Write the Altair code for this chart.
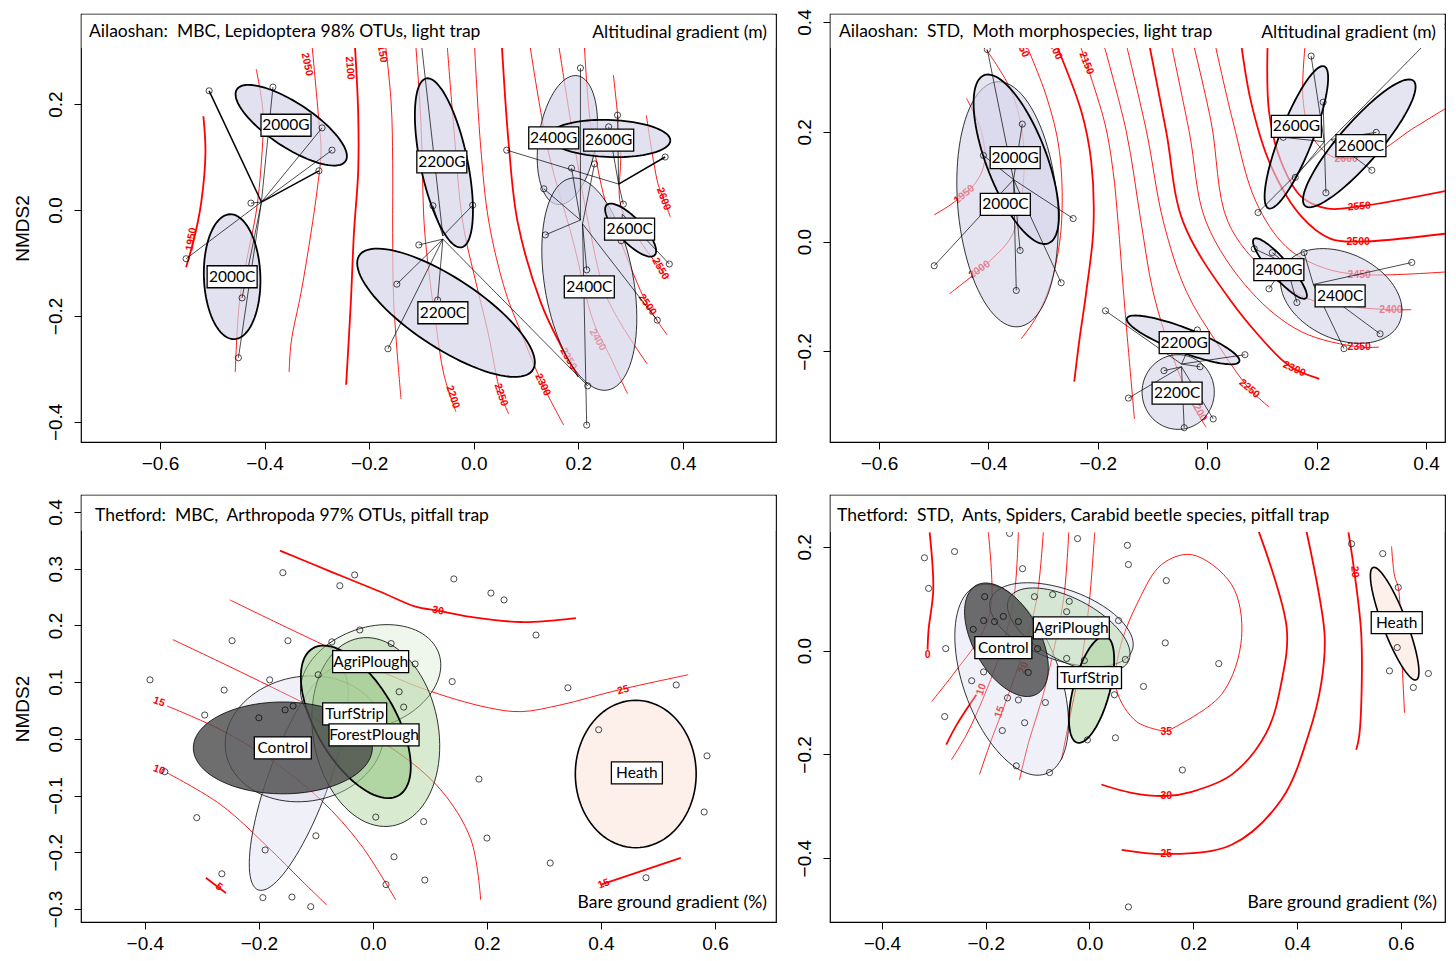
import numpy as np
import pandas as pd
import altair as alt

AXFONT = "Liberation Sans"
TFONT = "Lato"
NB = "\u00a0"

# ======================= Panel A : Ailaoshan MBC =======================
A_title = f"Ailaoshan:{NB} MBC, Lepidoptera 98% OTUs, light trap"
A_right = "Altitudinal gradient (m)"
A_contours = {
    "1950": [(-0.517, 0.177), (-0.513, 0.109), (-0.521, 0.015), (-0.534, -0.051), (-0.550, -0.108)],
    "2000": [(-0.416, 0.266), (-0.403, 0.185), (-0.406, 0.091), (-0.416, -0.004), (-0.431, -0.079), (-0.448, -0.174), (-0.456, -0.306)],
    "2050": [(-0.311, 0.330), (-0.296, 0.166), (-0.292, 0.109), (-0.300, 0.034), (-0.311, -0.042), (-0.330, -0.155), (-0.349, -0.249), (-0.353, -0.306)],
    "2100": [(-0.229, 0.340), (-0.221, 0.185), (-0.221, 0.072), (-0.229, -0.042), (-0.235, -0.174), (-0.244, -0.330)],
    "2150": [(-0.172, 0.340), (-0.158, 0.204), (-0.155, 0.091), (-0.155, -0.042), (-0.153, -0.174), (-0.139, -0.357)],
    "2200": [(-0.113, 0.340), (-0.101, 0.166), (-0.095, -0.023), (-0.088, -0.098), (-0.073, -0.211), (-0.057, -0.311), (-0.034, -0.381)],
    "2250": [(-0.053, 0.340), (-0.038, 0.153), (-0.021, -0.023), (0.004, -0.136), (0.027, -0.230), (0.052, -0.349), (0.067, -0.385)],
    "2300": [(0.000, 0.340), (0.013, 0.123), (0.029, -0.023), (0.061, -0.155), (0.090, -0.230), (0.132, -0.330), (0.172, -0.406)],
    "2350": [(0.052, 0.340), (0.067, 0.123), (0.084, -0.023), (0.128, -0.174), (0.166, -0.255), (0.200, -0.315)],
    "2400": [(0.103, 0.340), (0.143, 0.109), (0.189, -0.055), (0.229, -0.211), (0.261, -0.277), (0.294, -0.347)],
    "2450": [(0.158, 0.340), (0.195, 0.109), (0.223, -0.042), (0.256, -0.168), (0.332, -0.291)],
    "2500": [(0.210, 0.340), (0.223, 0.166), (0.252, 0.015), (0.281, -0.060), (0.332, -0.179), (0.370, -0.236)],
    "2550": [(0.267, 0.255), (0.281, 0.109), (0.281, 0.009), (0.319, -0.060), (0.357, -0.111), (0.372, -0.130)],
    "2600": [(0.330, 0.179), (0.344, 0.091), (0.353, 0.047), (0.363, 0.021), (0.376, -0.013)],
}
A_thick = ["1950", "2100", "2350"]
A_clabels = [
    ("1950", -0.540, -0.055, 280), ("2050", -0.319, 0.275, 78), ("2100", -0.237, 0.268, 85),
    ("2150", -0.176, 0.300, 80), ("2200", -0.040, -0.353, 72), ("2250", 0.052, -0.349, 72),
    ("2300", 0.132, -0.330, 65), ("2350", 0.181, -0.281, 60), ("2400", 0.237, -0.245, 60),
    ("2500", 0.332, -0.179, 55), ("2550", 0.357, -0.111, 60), ("2600", 0.363, 0.021, 70),
]
A_ellipses = [
    ("2000G", -0.349, 0.160, 0.124, 0.042, -33), ("2000C", -0.462, -0.126, 0.118, 0.054, 92),
    ("2200G", -0.057, 0.089, 0.163, 0.045, 102), ("2200C", -0.053, -0.194, 0.198, 0.066, -33),
    ("2400G", 0.179, 0.132, 0.123, 0.055, 81), ("2400C", 0.221, -0.140, 0.203, 0.085, 100),
    ("2600G", 0.260, 0.135, 0.116, 0.035, -2), ("2600C", 0.300, -0.038, 0.066, 0.023, -46),
]
A_boxes = [
    ("2000G", -0.359, 0.160), ("2000C", -0.462, -0.126), ("2200G", -0.061, 0.091), ("2200C", -0.059, -0.194),
    ("2400G", 0.153, 0.136), ("2600G", 0.258, 0.132), ("2400C", 0.221, -0.145), ("2600C", 0.298, -0.036),
]
A_hubs = {
    "2000G": (-0.406, 0.015), "2000C": (-0.406, 0.015), "2200G": (-0.059, -0.049), "2200C": (-0.059, -0.055),
    "2400G": (0.204, -0.019), "2400C": (0.208, -0.026), "2600G": (0.277, 0.049), "2600C": (0.284, -0.008),
}
A_points = {
    "2000G": [(-0.506, 0.225), (-0.384, 0.232), (-0.290, 0.155), (-0.271, 0.113), (-0.296, 0.074)],
    "2000C": [(-0.426, 0.013), (-0.550, -0.092), (-0.443, -0.166), (-0.450, -0.279)],
    "2200G": [(-0.103, 0.340), (-0.078, 0.008), (-0.002, 0.009)],
    "2200C": [(-0.105, -0.066), (-0.147, -0.140), (-0.164, -0.262), (-0.069, -0.170), (0.218, -0.332)],
    "2400G": [(0.204, 0.268), (0.187, 0.079), (0.134, 0.040), (0.137, -0.047)],
    "2400C": [(0.216, -0.113), (0.216, -0.406), (0.351, -0.208), (0.231, 0.087)],
    "2600G": [(0.275, 0.179), (0.258, 0.157), (0.366, 0.100), (0.063, 0.113), (0.286, 0.011)],
    "2600C": [(0.282, -0.058), (0.374, -0.102)],
}
A_bold_spokes = [(-0.506, 0.225), (-0.296, 0.074), (0.366, 0.100)]

# ======================= Panel B : Ailaoshan STD =======================
B_title = f"Ailaoshan:{NB} STD,{NB} Moth morphospecies, light trap"
B_right = "Altitudinal gradient (m)"
B_contours = {
    "1950": [(-0.440, 0.261), (-0.413, 0.201), (-0.407, 0.146), (-0.422, 0.109), (-0.468, 0.068), (-0.499, 0.049)],
    "2000": [(-0.404, 0.350), (-0.358, 0.274), (-0.336, 0.182), (-0.340, 0.073), (-0.358, 0.009), (-0.395, -0.033), (-0.471, -0.095)],
    "2050": [(-0.340, 0.380), (-0.294, 0.265), (-0.270, 0.164), (-0.267, 0.024), (-0.285, -0.073), (-0.312, -0.137), (-0.340, -0.177)],
    "2100": [(-0.285, 0.380), (-0.230, 0.237), (-0.212, 0.146), (-0.208, 0.024), (-0.221, -0.091), (-0.234, -0.182), (-0.243, -0.255)],
    "2150": [(-0.240, 0.380), (-0.188, 0.219), (-0.172, 0.128), (-0.163, 0.036), (-0.152, -0.104), (-0.133, -0.323)],
    "2200": [(-0.195, 0.380), (-0.148, 0.201), (-0.121, 0.036), (-0.099, -0.091), (-0.066, -0.201), (-0.029, -0.292), (-0.002, -0.338)],
    "2250": [(-0.153, 0.380), (-0.111, 0.201), (-0.080, 0.036), (-0.038, -0.091), (0.016, -0.182), (0.077, -0.268), (0.113, -0.301)],
    "2300": [(-0.110, 0.380), (-0.075, 0.201), (-0.044, 0.036), (0.044, -0.109), (0.135, -0.214), (0.159, -0.232), (0.205, -0.250)],
    "2350": [(-0.070, 0.380), (-0.033, 0.201), (-0.002, 0.036), (0.080, -0.091), (0.172, -0.164), (0.278, -0.192), (0.314, -0.192)],
    "2400": [(-0.030, 0.380), (0.007, 0.219), (0.038, 0.036), (0.108, -0.055), (0.184, -0.104), (0.268, -0.119), (0.336, -0.124), (0.373, -0.124)],
    "2450": [(0.010, 0.380), (0.047, 0.219), (0.089, 0.073), (0.144, -0.009), (0.208, -0.046), (0.278, -0.060), (0.440, -0.055)],
    "2500": [(0.058, 0.392), (0.080, 0.255), (0.117, 0.137), (0.172, 0.046), (0.226, 0.005), (0.276, 0.000), (0.440, 0.015)],
    "2550": [(0.111, 0.380), (0.113, 0.237), (0.135, 0.146), (0.172, 0.082), (0.221, 0.060), (0.278, 0.064), (0.440, 0.093)],
    "2600": [(0.181, 0.380), (0.175, 0.261), (0.190, 0.195), (0.221, 0.159), (0.245, 0.151), (0.312, 0.164), (0.373, 0.204), (0.440, 0.245)],
}
B_thick = ["2100", "2300", "2500", "2550"]
B_clabels = [
    ("1950", -0.444, 0.086, 320), ("2000", -0.416, -0.051, 325), ("2050", -0.340, 0.356, 65),
    ("2100", -0.279, 0.352, 65), ("2150", -0.221, 0.325, 68), ("2200", -0.016, -0.307, 60),
    ("2250", 0.077, -0.268, 40), ("2300", 0.159, -0.232, 25), ("2350", 0.278, -0.192, 0),
    ("2400", 0.336, -0.124, 0), ("2450", 0.278, -0.060, 0), ("2500", 0.276, 0.000, 0),
    ("2550", 0.278, 0.064, 355), ("2600", 0.254, 0.151, 0),
]
B_ellipses = [
    ("2000C", -0.365, 0.068, 0.224, 0.091, 95), ("2000G", -0.349, 0.150, 0.164, 0.055, -69),
    ("2600G", 0.163, 0.190, 0.139, 0.030, 68.5), ("2600C", 0.278, 0.179, 0.151, 0.037, 49),
    ("2400C", 0.245, -0.099, 0.117, 0.078, -25), ("2400G", 0.133, -0.049, 0.072, 0.017, -48.6),
    ("2200C", -0.053, -0.274, 0.068, 0.066, 90), ("2200G", -0.044, -0.179, 0.110, 0.022, -21),
]
B_boxes = [
    ("2000G", -0.351, 0.153), ("2000C", -0.369, 0.068), ("2600G", 0.163, 0.210), ("2600C", 0.281, 0.175),
    ("2400G", 0.131, -0.051), ("2400C", 0.243, -0.099), ("2200G", -0.042, -0.184), ("2200C", -0.055, -0.276),
]
B_hubs = {
    "2000G": (-0.354, 0.113), "2000C": (-0.354, 0.113), "2600G": (0.214, 0.182), "2600C": (0.226, 0.186),
    "2400G": (0.144, -0.040), "2400C": (0.194, -0.078), "2200G": (-0.047, -0.223), "2200C": (-0.047, -0.228),
}
B_points = {
    "2000G": [(-0.402, 0.350), (-0.338, 0.214), (-0.245, 0.042), (-0.342, -0.016)],
    "2000C": [(-0.409, 0.157), (-0.499, -0.044), (-0.349, -0.089), (-0.267, -0.075)],
    "2600G": [(0.190, 0.338), (0.212, 0.254), (0.139, 0.190), (0.161, 0.117), (0.217, 0.089)],
    "2600C": [(0.309, 0.199), (0.301, 0.130), (0.093, 0.053), (0.430, 0.392)],
    "2400G": [(0.086, -0.013), (0.119, -0.020), (0.113, -0.086), (0.164, -0.111)],
    "2400C": [(0.177, -0.020), (0.374, -0.038), (0.250, -0.195), (0.316, -0.168)],
    "2200G": [(-0.186, -0.126), (-0.018, -0.161), (0.069, -0.206), (-0.013, -0.228)],
    "2200C": [(-0.144, -0.285), (-0.079, -0.235), (-0.042, -0.339), (0.011, -0.323)],
}
B_bold_spokes = []

# ======================= Panel C : Thetford MBC =======================
C_title = f"Thetford:{NB} MBC,{NB} Arthropoda 97% OTUs, pitfall trap"
C_right = "Bare ground gradient (%)"
C_contours = {
    "30": [(-0.163, 0.332), (-0.074, 0.295), (0.014, 0.259), (0.075, 0.233), (0.114, 0.226), (0.172, 0.215), (0.260, 0.206), (0.356, 0.213)],
    "25": [(-0.251, 0.245), (-0.068, 0.157), (0.084, 0.090), (0.202, 0.055), (0.260, 0.048), (0.330, 0.060), (0.430, 0.086), (0.553, 0.113)],
    "20": [(-0.351, 0.175), (-0.232, 0.118), (-0.091, 0.048), (0.032, -0.016), (0.119, -0.090), (0.172, -0.178), (0.189, -0.284)],
    "15": [(-0.361, 0.058), (-0.267, 0.016), (-0.179, -0.037), (-0.091, -0.108), (-0.021, -0.187), (0.040, -0.284)],
    "10": [(-0.361, -0.060), (-0.267, -0.116), (-0.179, -0.196), (-0.126, -0.249), (-0.081, -0.293)],
    "5": [(-0.293, -0.245), (-0.258, -0.272)],
    "15b": [(0.400, -0.257), (0.540, -0.210)],
}
C_thick = ["30", "5", "15b"]
C_clabels = [
    ("30", 0.114, 0.226, 10), ("25", 0.439, 0.086, 345), ("15", -0.375, 0.065, 20),
    ("10", -0.375, -0.055, 20), ("5", -0.270, -0.261, 40), ("15", 0.405, -0.256, 340),
]
C_ellipses = [
    ("Control3", -0.130, -0.071, 0.208, 0.053, 70), ("Control2", -0.120, 0.000, 0.140, 0.110, 10),
    ("AgriPlough", -0.004, 0.108, 0.127, 0.088, 20), ("TurfStrip", 0.005, 0.012, 0.168, 0.110, 100),
    ("ForestPlough", -0.030, 0.030, 0.150, 0.070, 120), ("Control", -0.158, -0.016, 0.157, 0.081, 0),
    ("Heath", 0.461, -0.062, 0.130, 0.106, 90),
]
C_boxes = [
    ("AgriPlough", -0.004, 0.136), ("TurfStrip", -0.032, 0.044), ("ForestPlough", 0.002, 0.007),
    ("Control", -0.158, -0.016), ("Heath", 0.463, -0.060),
]
C_points_x = [-0.158, -0.032, -0.058, -0.247, -0.149, -0.023, -0.072, 0.032, -0.391, -0.181, -0.261, -0.096,
              0.074, -0.295, -0.200, -0.154, -0.140, 0.046, 0.054, 0.142, 0.207, 0.230, 0.286, 0.139, 0.342,
              0.532, 0.396, -0.365, -0.309, -0.189, -0.265, -0.100, -0.193, -0.109, -0.142, 0.023, 0.037,
              0.091, 0.089, 0.005, 0.186, 0.200, 0.311, 0.479, 0.581, 0.586]
C_points_y = [0.293, 0.289, 0.270, 0.173, 0.173, 0.192, 0.171, 0.168, 0.104, 0.104, 0.086, 0.113,
              0.132, 0.042, 0.037, 0.051, 0.058, 0.083, 0.056, 0.282, 0.257, 0.245, 0.183, 0.101, 0.090,
              0.095, 0.016, -0.058, -0.139, -0.196, -0.238, -0.171, -0.280, -0.296, -0.279, -0.257, -0.208,
              -0.249, -0.146, -0.138, -0.071, -0.175, -0.219, -0.245, -0.129, -0.030]

# ======================= Panel D : Thetford STD =======================
D_title = f"Thetford:{NB} STD,{NB} Ants, Spiders, Carabid beetle species, pitfall trap"
D_right = "Bare ground gradient (%)"
D_contours = {
    "0": [(-0.308, 0.228), (-0.301, 0.118), (-0.310, 0.041), (-0.312, 0.002)],
    "35": [(0.148, -0.156), (0.254, -0.085), (0.293, 0.025), (0.274, 0.127), (0.197, 0.185), (0.139, 0.166),
           (0.094, 0.095), (0.058, 0.002), (0.052, -0.075), (0.091, -0.137), (0.148, -0.156)],
    "30": [(0.326, 0.230), (0.380, 0.044), (0.370, -0.060), (0.341, -0.158), (0.274, -0.239), (0.197, -0.272),
           (0.148, -0.280), (0.081, -0.274), (0.023, -0.258)],
    "25": [(0.418, 0.230), (0.453, 0.031), (0.447, -0.060), (0.422, -0.162), (0.370, -0.287), (0.274, -0.374),
           (0.148, -0.392), (0.062, -0.384)],
    "20": [(0.499, 0.228), (0.511, 0.147), (0.524, 0.025), (0.520, -0.162), (0.514, -0.191)],
    "h": [(0.582, 0.201), (0.588, 0.143), (0.595, 0.122), (0.601, 0.002), (0.607, -0.120)],
    "f1": [(-0.195, 0.228), (-0.189, 0.089), (-0.208, 0.031), (-0.256, -0.037), (-0.304, -0.098)],
    "f2": [(-0.137, 0.228), (-0.146, 0.098), (-0.170, 0.002), (-0.198, -0.075), (-0.237, -0.162), (-0.266, -0.210)],
    "f3": [(-0.089, 0.228), (-0.102, 0.098), (-0.127, 0.002), (-0.160, -0.095), (-0.189, -0.172), (-0.212, -0.239)],
    "f4": [(-0.040, 0.228), (-0.050, 0.098), (-0.073, -0.017), (-0.092, -0.095), (-0.116, -0.172), (-0.135, -0.249)],
    "f5": [(0.010, 0.228), (0.000, 0.098), (-0.015, -0.017), (-0.035, -0.114), (-0.054, -0.210)],
    "f6": [(-0.218, -0.085), (-0.256, -0.143), (-0.276, -0.181)],
}
D_thick = ["0", "30", "25", "20", "f6"]
D_clabels = [
    ("0", -0.312, -0.008, 0), ("35", 0.148, -0.156, 0), ("30", 0.148, -0.280, 0), ("25", 0.148, -0.392, 0),
    ("20", 0.511, 0.152, 85), ("10", -0.208, -0.075, 290), ("15", -0.173, -0.118, 290), ("20", -0.127, -0.033, 290),
]
D_ellipses = [
    ("Control2", -0.150, -0.056, 0.193, 0.093, 110), ("Control2b", -0.054, 0.050, 0.145, 0.068, -20),
    ("AgriPlough", -0.040, 0.040, 0.130, 0.060, -28), ("Control", -0.160, 0.021, 0.120, 0.064, -61),
    ("TurfStrip", 0.004, -0.075, 0.106, 0.035, 75), ("Heath", 0.588, 0.052, 0.116, 0.023, 111),
]
D_boxes = [("Control", -0.166, 0.006), ("AgriPlough", -0.035, 0.044), ("TurfStrip", 0.000, -0.052), ("Heath", 0.592, 0.054)]
D_points_x = [-0.154, -0.023, -0.260, -0.318, -0.129, 0.073, 0.075, -0.310, -0.202, -0.071, -0.039, -0.106, -0.044,
              -0.204, -0.183, -0.166, -0.137, -0.224, -0.277, -0.100, -0.204, -0.118, -0.227, 0.056, 0.069, -0.010,
              -0.044, 0.048, -0.158, -0.137, -0.085, -0.279, -0.125, -0.168, 0.148, 0.146, 0.249, 0.104, 0.505,
              0.565, 0.595, 0.593, 0.578, 0.624, 0.653, 0.179, 0.075, -0.004, 0.050, -0.077, -0.141]
D_points_y = [0.226, 0.216, 0.191, 0.179, 0.158, 0.203, 0.166, 0.120, 0.104, 0.108, 0.095, 0.104, 0.075,
              0.058, 0.056, 0.066, 0.056, 0.041, 0.004, 0.004, -0.041, -0.042, -0.058, 0.058, -0.017, -0.019,
              -0.015, -0.085, -0.091, -0.095, -0.100, -0.127, -0.139, -0.154, 0.135, 0.015, -0.025, -0.069, 0.206,
              0.187, 0.122, 0.006, -0.039, -0.071, -0.044, -0.230, -0.494, -0.172, -0.168, -0.235, -0.222]

# ======================= styles =======================
LAV = "#d4d4ea"
ELL_STYLE = {
    "A": {"2000G": (LAV, 0.7, 1.8), "2000C": (LAV, 0.7, 1.8), "2200G": (LAV, 0.7, 1.8), "2200C": (LAV, 0.7, 1.8),
          "2400G": (LAV, 0.7, 0.8), "2400C": (LAV, 0.7, 0.8), "2600G": (LAV, 0.7, 1.8), "2600C": (LAV, 0.7, 1.8)},
    "B": {"2000G": (LAV, 0.6, 1.8), "2000C": (LAV, 0.6, 0.8), "2200G": (LAV, 0.6, 1.8), "2200C": (LAV, 0.6, 0.8),
          "2400G": (LAV, 0.6, 1.8), "2400C": (LAV, 0.6, 0.8), "2600G": (LAV, 0.6, 1.8), "2600C": (LAV, 0.6, 1.8)},
    "C": {"Control3": (LAV, 0.35, 0.8), "Control2": (LAV, 0.35, 0.8), "AgriPlough": ("#e4f0de", 0.6, 0.8),
          "TurfStrip": ("#a9d197", 0.45, 0.8), "ForestPlough": ("#8cc078", 0.5, 1.8), "Control": ("#4a4a4a", 0.8, 0.8),
          "Heath": ("#fdefea", 1.0, 1.6)},
    "D": {"Control2": (LAV, 0.35, 0.8), "Control2b": (LAV, 0.35, 0.8), "AgriPlough": ("#bcdcb0", 0.5, 0.8),
          "Control": ("#4a4a4a", 0.8, 0.8), "TurfStrip": ("#a9d197", 0.5, 1.8), "Heath": ("#fdefea", 1.0, 1.6)},
}
BOX_W = {"2000G": 50, "2000C": 50, "2200G": 50, "2200C": 50, "2400G": 50, "2400C": 50, "2600G": 50, "2600C": 50,
         "AgriPlough": 76, "TurfStrip": 64, "ForestPlough": 90, "Control": 57, "Heath": 51}
BOX_LABELS = list(BOX_W.keys())
BOX_PATHS = [f"M{-w/20:.2f},-1.1L{w/20:.2f},-1.1L{w/20:.2f},1.1L{-w/20:.2f},1.1Z" for w in BOX_W.values()]


def contour_df(cdict):
    rows = []
    for lev, pts in cdict.items():
        for i, (x, y) in enumerate(pts):
            rows.append({"lev": lev, "i": i, "x": x, "y": y})
    return pd.DataFrame(rows)


def ellipse_df(cx, cy, a, b, th, n=90):
    t = np.linspace(0, 2 * np.pi, n + 1)
    r = np.radians(th)
    x = cx + a * np.cos(r) * np.cos(t) - b * np.sin(r) * np.sin(t)
    y = cy + a * np.sin(r) * np.cos(t) + b * np.cos(r) * np.sin(t)
    return pd.DataFrame({"i": np.arange(n + 1), "x": x, "y": y})


def make_panel(key, W, H, xdom, ydom, xticks, yticks, ytitle, contours, thick, clabels, ellipses,
               boxes, hubs=None, groups=None, bold=None, px=None, py=None, title="", right="", tx=8, ty=19,
               rx=None, ry=19, band=34):
    xs = alt.Scale(domain=xdom, nice=False, zero=False)
    ys = alt.Scale(domain=ydom, nice=False, zero=False)
    xax = alt.Axis(values=xticks, format=".1f", title=None, grid=False, domain=False, tickSize=7,
                   tickColor="black", tickWidth=1, labelFont=AXFONT, labelFontSize=19, labelColor="black",
                   labelPadding=5)
    ykw = dict(values=yticks, format=".1f", grid=False, domain=False, tickSize=7, tickColor="black",
               tickWidth=1, labelFont=AXFONT, labelFontSize=19, labelColor="black", labelAngle=270,
               labelAlign="center", labelBaseline="bottom", labelPadding=9)
    if ytitle:
        yax = alt.Axis(title="NMDS2", titleFont=AXFONT, titleFontSize=19, titleFontWeight="normal",
                       titleColor="black", titlePadding=14, **ykw)
    else:
        yax = alt.Axis(title=None, **ykw)

    def ex(f="x"):
        return alt.X(f + ":Q", scale=xs, axis=xax)

    def ey(f="y"):
        return alt.Y(f + ":Q", scale=ys, axis=yax)

    layers = []
    cdf = contour_df(contours)
    for sel, w in [(~cdf["lev"].isin(thick), 0.9), (cdf["lev"].isin(thick), 1.8)]:
        d = cdf[sel]
        if len(d):
            layers.append(alt.Chart(d).mark_line(color="red", strokeWidth=w, clip=True,
                                                 interpolate="catmull-rom").encode(
                x=ex(), y=ey(), detail="lev:N", order="i:Q"))
    ldf = pd.DataFrame(clabels, columns=["t", "x", "y", "ang"])
    layers.append(alt.Chart(ldf).mark_text(color="red", fontWeight="bold", fontSize=10.5, font=AXFONT,
                                           clip=True).encode(
        x=ex(), y=ey(), text="t:N", angle=alt.Angle("ang:Q", scale=None)))
    for (name, cx, cy, a, b, th) in ellipses:
        fill, op, sw = ELL_STYLE[key][name]
        layers.append(alt.Chart(ellipse_df(cx, cy, a, b, th)).mark_line(
            fill=fill, fillOpacity=op, stroke="black", strokeWidth=sw, clip=True).encode(
            x=ex(), y=ey(), order="i:Q"))
    if hubs is not None:
        srows = []
        for g, pts in groups.items():
            hx, hy = hubs[g]
            for (x, y) in pts:
                srows.append({"g": g, "hx": hx, "hy": hy, "x": x, "y": y,
                              "b": 1 if (x, y) in (bold or []) else 0})
        sdf = pd.DataFrame(srows)
        for flag, w in [(0, 0.7), (1, 1.5)]:
            d = sdf[sdf["b"] == flag]
            if len(d):
                layers.append(alt.Chart(d).mark_rule(color="black", strokeWidth=w, clip=True).encode(
                    x=ex("hx"), y=ey("hy"), x2="x:Q", y2="y:Q"))
        pdf = sdf[["x", "y"]]
    else:
        pdf = pd.DataFrame({"x": px, "y": py})
    layers.append(alt.Chart(pdf).mark_point(shape="circle", size=38, filled=False, color="black",
                                            strokeWidth=0.7, opacity=1, clip=True).encode(x=ex(), y=ey()))
    # white band behind the panel title
    layers.append(alt.Chart(pd.DataFrame({"k": [0]})).mark_rect(color="white", opacity=1).encode(
        x=alt.value(0.6), x2=alt.value(W - 0.6), y=alt.value(0.6), y2=alt.value(band)))
    bdf = pd.DataFrame(boxes, columns=["lab", "x", "y"])
    layers.append(alt.Chart(bdf).mark_point(filled=True, fill="white", stroke="black", strokeWidth=1.3,
                                            size=400, opacity=1).encode(
        x=ex(), y=ey(), shape=alt.Shape("lab:N", scale=alt.Scale(domain=BOX_LABELS, range=BOX_PATHS),
                                        legend=None)))
    layers.append(alt.Chart(bdf).mark_text(font=TFONT, fontSize=15.5, color="black").encode(
        x=ex(), y=ey(), text="lab:N"))
    layers.append(alt.Chart(pd.DataFrame({"t": [title]})).mark_text(
        align="left", baseline="middle", font=TFONT, fontSize=17.5, color="black").encode(
        x=alt.value(tx), y=alt.value(ty), text="t:N"))
    layers.append(alt.Chart(pd.DataFrame({"t": [right]})).mark_text(
        align="right", baseline="middle", font=TFONT, fontSize=17.5, color="black").encode(
        x=alt.value(rx if rx is not None else W - 9), y=alt.value(ry), text="t:N"))
    return alt.layer(*layers).properties(width=W, height=H)


pA = make_panel("A", 695, 428, [-0.751, 0.578], [-0.438, 0.370], [-0.6, -0.4, -0.2, 0.0, 0.2, 0.4],
                [-0.4, -0.2, 0.0, 0.2], True, A_contours, A_thick, A_clabels, A_ellipses, A_boxes,
                hubs=A_hubs, groups=A_points, bold=A_bold_spokes, title=A_title, right=A_right, tx=8, ty=18)
pB = make_panel("B", 615, 428, [-0.6895, 0.4347], [-0.365, 0.4146], [-0.6, -0.4, -0.2, 0.0, 0.2, 0.4],
                [-0.2, 0.0, 0.2, 0.4], False, B_contours, B_thick, B_clabels, B_ellipses, B_boxes,
                hubs=B_hubs, groups=B_points, bold=B_bold_spokes, title=B_title, right=B_right, tx=9, ty=18)
pC = make_panel("C", 695, 427, [-0.512, 0.707], [-0.323, 0.430], [-0.4, -0.2, 0.0, 0.2, 0.4, 0.6],
                [-0.3, -0.2, -0.1, 0.0, 0.1, 0.2, 0.3, 0.4], True, C_contours, C_thick, C_clabels, C_ellipses,
                C_boxes, px=C_points_x, py=C_points_y, title=C_title, right=C_right, tx=14, ty=21,
                ry=408, band=36)
pD = make_panel("D", 615, 427, [-0.500, 0.685], [-0.523, 0.300], [-0.4, -0.2, 0.0, 0.2, 0.4, 0.6],
                [-0.4, -0.2, 0.0, 0.2], False, D_contours, D_thick, D_clabels, D_ellipses, D_boxes,
                px=D_points_x, py=D_points_y, title=D_title, right=D_right, tx=7, ty=21, rx=607,
                ry=408, band=37)

chart = alt.vconcat(
    alt.hconcat(pA, pB, spacing=17),
    alt.hconcat(pC, pD, spacing=17),
    spacing=20,
).properties(padding={"left": 4, "top": 0, "right": 2, "bottom": 0}, background="white").configure_view(
    stroke="black", strokeWidth=1.2)

chart.save("out.html", embed_options={"renderer": "svg", "actions": False})
